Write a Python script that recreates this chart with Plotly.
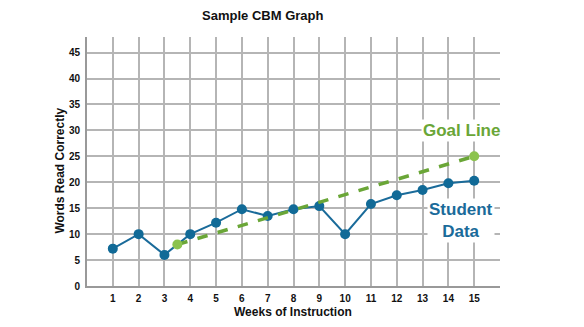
import plotly.graph_objects as go

weeks = list(range(1, 16))
student_words = [7.2, 10, 6, 10, 12.2, 14.8, 13.5, 14.8, 15.4, 10, 15.8, 17.5, 18.5, 19.8, 20.3]
goal_weeks = [3.5, 15]
goal_words = [8, 25]
y_ticks = list(range(0, 50, 5))

BLUE = "#1a6b9a"
BLUE_M = "#116a97"
GREEN = "#6aa637"
GREEN_M = "#8cc34e"
FONT = "Liberation Sans, Arial, sans-serif"

fig = go.Figure()
fig.add_trace(go.Scatter(
    x=weeks, y=student_words, mode="lines+markers",
    line=dict(color=BLUE, width=2),
    marker=dict(color=BLUE_M, size=10),
    showlegend=False, cliponaxis=False))
fig.add_trace(go.Scatter(
    x=goal_weeks, y=goal_words, mode="lines",
    line=dict(color=GREEN, width=3.5, dash="dash"),
    showlegend=False, cliponaxis=False))
fig.add_trace(go.Scatter(
    x=goal_weeks, y=goal_words, mode="markers",
    marker=dict(color=GREEN_M, size=10),
    showlegend=False, cliponaxis=False))

fig.add_annotation(x=14.5, y=30, text="<b>Goal Line</b>", showarrow=False,
                   font=dict(family=FONT, size=17, color=GREEN), bgcolor="white",
                   xanchor="center", yanchor="middle")
fig.add_annotation(x=14.5, y=12.6, text="<b>Student<br>Data</b>", showarrow=False,
                   font=dict(family=FONT, size=17, color=BLUE), bgcolor="white",
                   xanchor="center", yanchor="middle", align="center")

# axis titles
fig.add_annotation(xref="paper", yref="paper", x=-0.065, y=0.464, text="<b>Words Read Correctly</b>",
                   textangle=-90, showarrow=False, xanchor="center", yanchor="middle",
                   font=dict(family=FONT, size=12, color="#111"))
fig.add_annotation(xref="paper", yref="paper", x=0.4976, y=-0.103, text="<b>Weeks of Instruction</b>",
                   showarrow=False, xanchor="center", yanchor="middle",
                   font=dict(family=FONT, size=12, color="#111"))

fig.update_layout(
    width=584, height=327,
    margin=dict(l=87, r=84, t=37, b=41),
    paper_bgcolor="white", plot_bgcolor="white",
    title=dict(text="<b>Sample CBM Graph</b>", x=0.45, xanchor="center", y=0.953, yanchor="middle",
               font=dict(family=FONT, size=13, color="#111")),
    xaxis=dict(range=[0, 16], tickvals=weeks, ticktext=[f"<b>{w}</b>" for w in weeks],
               showgrid=True, gridcolor="#b5b5b5", gridwidth=1.5, automargin=False,
               showline=True, linecolor="#999", linewidth=2, zeroline=False,
               ticks="", ticklabelstandoff=2, tickfont=dict(family=FONT, size=10, color="#111")),
    yaxis=dict(range=[0, 48], tickvals=y_ticks, ticktext=[f"<b>{v}</b>" for v in y_ticks],
               showgrid=True, gridcolor="#b5b5b5", gridwidth=1.5, automargin=False,
               showline=True, linecolor="#999", linewidth=2, zeroline=False,
               ticks="", ticklabelstandoff=3, tickfont=dict(family=FONT, size=10, color="#111")),
)

fig.write_html("out.html")
